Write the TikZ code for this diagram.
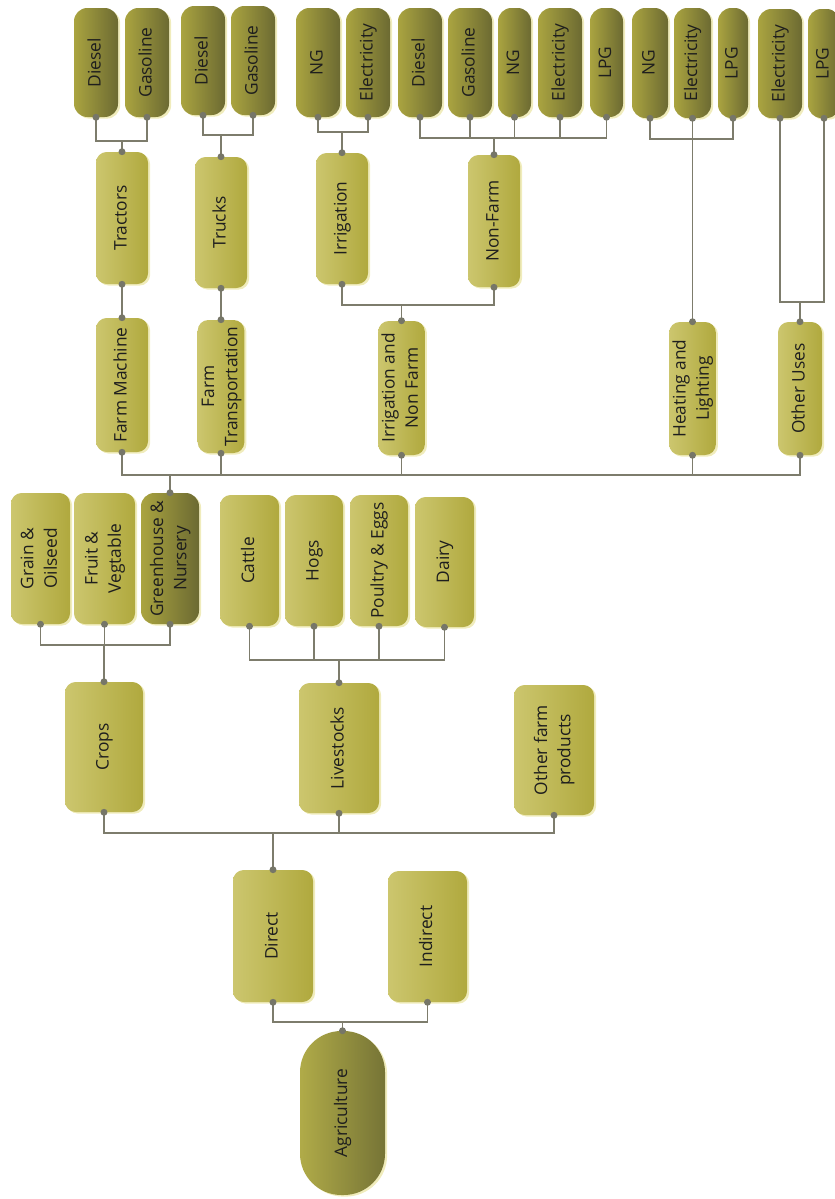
\documentclass[tikz,border=0pt]{standalone}
\usepackage{fontspec}
\setmainfont{Open Sans}
\usepackage{graphicx}
\usetikzlibrary{shadows,calc}
\definecolor{liteL}{RGB}{204,198,110}
\definecolor{liteR}{RGB}{176,169,62}
\definecolor{fuelL}{RGB}{170,164,64}
\definecolor{fuelR}{RGB}{108,106,50}
\definecolor{agL}{RGB}{176,171,72}
\definecolor{agR}{RGB}{118,116,54}
\definecolor{shad}{RGB}{240,236,188}
\definecolor{linec}{RGB}{125,124,108}
\definecolor{dotc}{RGB}{118,118,104}
\definecolor{txt}{RGB}{30,30,30}
\newcommand\vtxt[1]{\rotatebox{90}{\begin{tabular}{@{}c@{}}#1\end{tabular}}}
\newcommand\bx[7]{%
  \pgfmathsetmacro\bxcx{(#3+#5)/2}\pgfmathsetmacro\bxcy{(#4+#6)/2}%
  \pgfmathsetmacro\bxw{(#5-#3)*0.75}\pgfmathsetmacro\bxh{(#6-#4)*0.75}%
  \node[#1, minimum width=\bxw pt, minimum height=\bxh pt] (#2) at (\bxcx,\bxcy) {\vtxt{#7}};}
\tikzset{
  base/.style={inner sep=0pt, text=txt, font=\fontsize{13}{17.5}\selectfont,
    drop shadow={shadow xshift=1.6pt, shadow yshift=-1.2pt, fill=shad, opacity=1}},
  lite/.style={base, rounded corners=8pt, left color=liteL, right color=liteR},
  fuel/.style={base, rounded corners=10pt, left color=fuelL, right color=fuelR},
  agri/.style={base, rounded corners=31pt, left color=agL, right color=agR},
  conn/.style={draw=linec, line width=1.1pt},
  dotmark/.style={fill=dotc}
}
\begin{document}
\begin{tikzpicture}[x=0.75pt, y=-0.75pt]
\useasboundingbox (0,0) rectangle (835,1199);
% fuel row
\bx{fuel}{f1}{74}{8}{118}{117}{Diesel}
\bx{fuel}{f2}{125}{8}{169}{117}{Gasoline}
\bx{fuel}{f3}{181}{6}{225}{115}{Diesel}
\bx{fuel}{f4}{231}{6}{275}{115}{Gasoline}
\bx{fuel}{f5}{296}{8}{340}{117}{NG}
\bx{fuel}{f6}{346}{8}{390}{117}{Electricity}
\bx{fuel}{f7}{398}{8}{442}{117}{Diesel}
\bx{fuel}{f8}{448}{8}{492}{117}{Gasoline}
\bx{fuel}{f9}{498}{8}{531}{117}{NG}
\bx{fuel}{f10}{538}{8}{582}{117}{Electricity}
\bx{fuel}{f11}{590}{8}{623}{117}{LPG}
\bx{fuel}{f12}{632}{8}{668}{118}{NG}
\bx{fuel}{f13}{674}{8}{711}{118}{Electricity}
\bx{fuel}{f14}{718}{8}{748}{118}{LPG}
\bx{fuel}{f15}{758}{9}{802}{118}{Electricity}
\bx{fuel}{f16}{808}{9}{840}{118}{LPG}
% second row
\bx{lite}{tr}{96}{152}{148}{284}{Tractors}
\bx{lite}{tk}{195}{157}{247}{288}{Trucks}
\bx{lite}{ir}{316}{153}{368}{284}{Irrigation}
\bx{lite}{nf}{468}{155}{520}{287}{Non-Farm}
% third row
\bx{lite}{fm}{96}{318}{148}{452}{Farm Machine}
\bx{lite}{ft}{198}{320}{244}{453}{Farm\\Transportation}
\bx{lite}{inf}{379}{321}{424}{455}{Irrigation and\\Non Farm}
\bx{lite}{hl}{670}{322}{715}{455}{Heating and\\Lighting}
\bx{lite}{ou}{778}{322}{822}{455}{Other Uses}
% fourth row
\bx{lite}{go}{11}{493}{70}{624}{Grain \&\\Oilseed}
\bx{lite}{fv}{74}{493}{135}{624}{Fruit \&\\Vegtable}
\bx{fuel}{gh}{141}{493}{199}{624}{Greenhouse \&\\Nursery}
\bx{lite}{ca}{220}{495}{279}{626}{Cattle}
\bx{lite}{hg}{285}{495}{343}{626}{Hogs}
\bx{lite}{pe}{350}{495}{408}{626}{Poultry \& Eggs}
\bx{lite}{da}{415}{497}{474}{627}{Dairy}
% fifth row
\bx{lite}{cr}{65}{682}{143}{812}{Crops}
\bx{lite}{lv}{299}{683}{379}{813}{Livestocks}
\bx{lite}{of}{514}{685}{594}{815}{Other farm\\products}
% sixth row
\bx{lite}{di}{233}{870}{313}{1002}{Direct}
\bx{lite}{ind}{388}{871}{467}{1002}{Indirect}
% root
\bx{agri}{ag}{300}{1031}{385}{1195}{Agriculture}

% junctions
\coordinate (jtr) at (tr.north |- 0,141);
\coordinate (jtk) at (tk.north |- 0,135);
\coordinate (jir) at (ir.north |- 0,132);
\coordinate (jnf) at (nf.north |- 0,138);
\coordinate (jhl) at (f13.south |- 0,139);
\coordinate (jou) at (ou.north |- 0,302);
\coordinate (jinf) at (inf.north |- 0,305);
\coordinate (jgh) at (gh.north |- 0,475);
\coordinate (jcr) at (cr.north |- 0,645);
\coordinate (jlv) at (lv.north |- 0,660);
\coordinate (jdi) at (di.north |- 0,833);
\coordinate (jag) at (ag.north |- 0,1022);

% connectors
\draw[conn] (f1.south) |- (jtr) -- (tr.north);
\draw[conn] (f2.south) |- (jtr);
\draw[conn] (f3.south) |- (jtk) -- (tk.north);
\draw[conn] (f4.south) |- (jtk);
\draw[conn] (f5.south) |- (jir) -- (ir.north);
\draw[conn] (f6.south) |- (jir);
\foreach \n in {f7,f8,f9,f10,f11} \draw[conn] (\n.south) |- (jnf);
\draw[conn] (jnf) -- (nf.north);
\draw[conn] (f12.south) |- (jhl);
\draw[conn] (f14.south) |- (jhl);
\draw[conn] (f13.south) -- (hl.north);
\draw[conn] (f15.south) |- (jou) -- (ou.north);
\draw[conn] (f16.south) |- (jou);
\draw[conn] (tr.south) -- (fm.north);
\draw[conn] (tk.south) -- (ft.north);
\draw[conn] (ir.south) |- (jinf) -- (inf.north);
\draw[conn] (nf.south) |- (jinf);
\foreach \n in {fm,ft,inf,hl,ou} \draw[conn] (\n.south) |- (jgh);
\draw[conn] (jgh) -- (gh.north);
\foreach \n in {go,fv,gh} \draw[conn] (\n.south) |- (jcr);
\draw[conn] (jcr) -- (cr.north);
\foreach \n in {ca,hg,pe,da} \draw[conn] (\n.south) |- (jlv);
\draw[conn] (jlv) -- (lv.north);
\foreach \n in {cr,lv,of} \draw[conn] (\n.south) |- (jdi);
\draw[conn] (jdi) -- (di.north);
\draw[conn] (di.south) |- (jag);
\draw[conn] (ind.south) |- (jag);
\draw[conn] (jag) -- (ag.north);

% dots
\foreach \n in {f1,f2,f3,f4,f5,f6,f7,f8,f9,f10,f11,f12,f13,f14,f15,f16,tr,tk,ir,nf,fm,ft,inf,hl,ou,go,fv,gh,ca,hg,pe,da,cr,lv,of,di,ind}
  \fill[dotmark] (\n.south) circle (2.6pt);
\foreach \n in {tr,tk,ir,nf,fm,ft,inf,hl,ou,gh,cr,lv,di,ag}
  \fill[dotmark] (\n.north) circle (2.6pt);
\end{tikzpicture}
\end{document}
